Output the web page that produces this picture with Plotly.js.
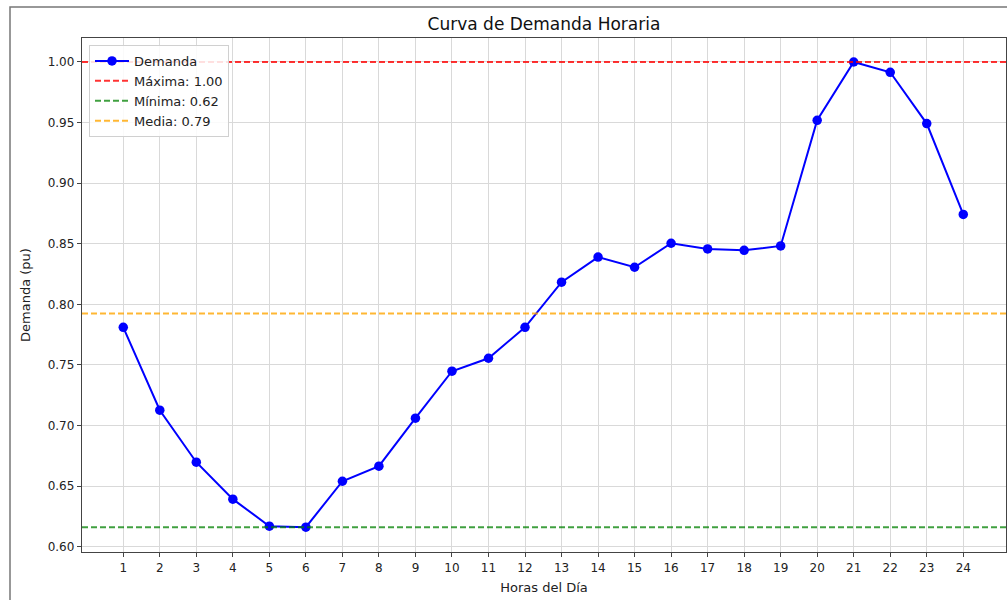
<!DOCTYPE html>
<html>
<head>
<meta charset="utf-8">
<script src="https://cdn.plot.ly/plotly-3.0.1.min.js"></script>
<style>
  html, body { margin: 0; padding: 0; background: #fff; }
  #chart { width: 1007px; height: 600px; }
</style>
</head>
<body>
<div id="chart"></div>
<script>
// ---- data ----
const hours = [1,2,3,4,5,6,7,8,9,10,11,12,13,14,15,16,17,18,19,20,21,22,23,24];
const demand = [0.781,0.7126,0.6697,0.6392,0.6169,0.6161,0.654,0.6664,0.706,0.7448,0.7555,0.781,
                0.8183,0.839,0.8306,0.8504,0.8457,0.8446,0.8482,0.9519,1.0,0.9915,0.9492,0.8742];
const maxValue = 1.00;
const minValue = 0.6161;
const meanValue = 0.7925;
const refNames = ["Máxima: 1.00", "Mínima: 0.62", "Media: 0.79"];
const yTickVals = [0.60,0.65,0.70,0.75,0.80,0.85,0.90,0.95,1.00];
const yTickText = ["0.60","0.65","0.70","0.75","0.80","0.85","0.90","0.95","1.00"];
const xTickText = hours.map(String);

// axis ranges (matplotlib-like 5% margins)
const X_RANGE = [-0.13, 25.17];
const Y_RANGE = [0.5956, 1.0198];

const font = "DejaVu Sans, Arial, sans-serif";

function refLine(val, name, color) {
  return {
    x: X_RANGE, y: [val, val], mode: "lines", name: name,
    line: {color: color, width: 2, dash: "6px,3px"},
    hoverinfo: "skip"
  };
}

const traces = [
  {
    x: hours, y: demand, mode: "lines+markers", name: "Demanda",
    line: {color: "#0000ff", width: 2},
    marker: {color: "#0000ff", size: 9.5, symbol: "circle"}
  },
  refLine(maxValue, refNames[0], "rgba(255,0,0,0.8)"),
  refLine(minValue, refNames[1], "rgba(0,128,0,0.75)"),
  refLine(meanValue, refNames[2], "rgba(255,165,0,0.8)")
];

const L = 82, R = 1, T = 38, B = 48;
const W = 1007 - L - R, H = 600 - T - B;

const layout = {
  width: 1007, height: 600,
  margin: {l: L, r: R, t: T, b: B},
  paper_bgcolor: "#fff", plot_bgcolor: "#fff",
  font: {family: font, color: "#222", size: 12},
  title: {text: "Curva de Demanda Horaria", font: {family: font, size: 17, color: "#111"},
          xref: "paper", x: 0.5, xanchor: "center", yref: "container", y: 1 - 24/600, yanchor: "middle"},
  xaxis: {
    range: X_RANGE, tickmode: "array", tickvals: hours, ticktext: xTickText,
    showgrid: true, gridcolor: "#d9d9d9", gridwidth: 1,
    zeroline: false, showline: true, linecolor: "#444", linewidth: 1.2, mirror: true,
    ticks: "outside", ticklen: 4, tickcolor: "#444", tickwidth: 1,
    tickfont: {family: font, size: 12, color: "#222"},
    title: {text: "Horas del Día", font: {family: font, size: 13, color: "#222"}, standoff: 9}
  },
  yaxis: {
    range: Y_RANGE, tickmode: "array", tickvals: yTickVals, ticktext: yTickText,
    showgrid: true, gridcolor: "#d9d9d9", gridwidth: 1,
    zeroline: false, showline: true, linecolor: "#444", linewidth: 1.2, mirror: true,
    ticks: "outside", ticklen: 4, tickcolor: "#444", tickwidth: 1,
    tickfont: {family: font, size: 12, color: "#222"},
    title: {text: "Demanda (pu)", font: {family: font, size: 13, color: "#222"}, standoff: 14}
  },
  legend: {
    x: 7 / W, y: 1 - 7 / H, xanchor: "left", yanchor: "top",
    bgcolor: "rgba(255,255,255,0.85)", bordercolor: "#d0d0d0", borderwidth: 1,
    font: {family: font, size: 13, color: "#222"},
    itemwidth: 34, tracegroupgap: 0
  },
  shapes: [{
    type: "rect", xref: "paper", yref: "paper", layer: "above",
    x0: (10 - L) / W, x1: (1040 - L) / W,
    y0: -(640 - (600 - B)) / H, y1: (600 - B - 7) / H,
    line: {color: "#777", width: 1.5}, fillcolor: "rgba(0,0,0,0)"
  }],
  showlegend: true
};

Plotly.newPlot("chart", traces, layout, {displayModeBar: false, staticPlot: true});
</script>
</body>
</html>
